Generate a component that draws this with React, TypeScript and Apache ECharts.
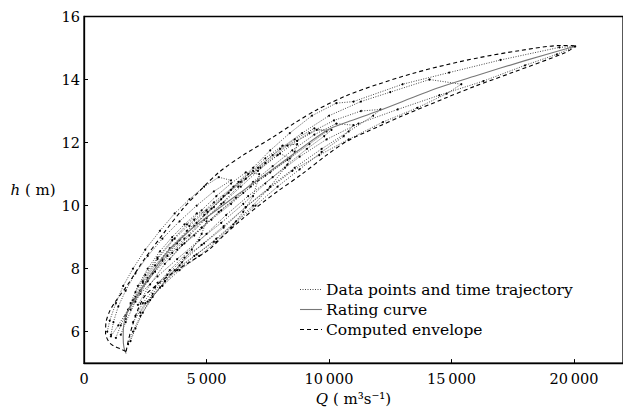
import React, { useEffect, useRef } from 'react';
import * as echarts from 'echarts';

const xTicks = [0, 5000, 10000, 15000, 20000];
const yTicks = [6, 8, 10, 12, 14, 16];

const ratingCurve = [
  [1720, 5.3], [1630, 5.5], [1600, 5.8], [1620, 6.2], [1750, 6.6], [2020, 6.95],
  [2690, 7.77], [3370, 8.5], [4300, 9.2], [5400, 9.85], [6450, 10.45], [8000, 11.32],
  [9935, 12.4], [10750, 12.65], [12000, 13.0], [14400, 13.72], [16000, 14.12],
  [18000, 14.6], [20000, 15.05],
];

const envelopeUpper = [
  [1720, 5.37], [1480, 5.45], [1200, 5.55], [1010, 5.68], [880, 5.95], [900, 6.3],
  [1050, 6.65], [1280, 6.95], [1750, 7.45], [2420, 8.25], [3230, 9.1], [4040, 9.9],
  [4700, 10.45], [5500, 11.05], [6500, 11.6], [7650, 12.14], [8600, 12.62], [9530, 13.05],
  [10750, 13.5], [12000, 13.85], [13450, 14.2], [14800, 14.47], [16100, 14.69],
  [17800, 14.92], [19500, 15.08], [20050, 15.07],
];

const envelopeLower = [
  [1720, 5.37], [1820, 5.75], [1980, 6.2], [2200, 6.7], [2500, 7.15], [3000, 7.5],
  [3600, 7.85], [4300, 8.2], [5100, 8.6], [5700, 9.05], [6500, 9.6], [7300, 10.1],
  [7900, 10.45], [8900, 11.0], [9900, 11.6], [10750, 12.05], [12000, 12.5], [13000, 12.85],
  [14780, 13.42], [16000, 13.8], [17480, 14.22], [19630, 14.85], [20050, 15.05],
];

const trajectoryA = [
  [2100, 6.5], [2400, 6.9], [2900, 7.4], [3500, 7.95], [4200, 8.5], [5000, 9.1], [5800, 9.7],
  [6700, 10.3], [7700, 10.9], [8800, 11.55], [9900, 12.1], [11200, 12.6], [12800, 13.05],
  [14500, 13.5], [16300, 13.95], [18000, 14.45], [19300, 14.8], [20050, 15.05],
  [19400, 15.02], [17000, 14.62], [14900, 14.22], [13000, 13.85], [11000, 13.3], [10300, 13.25],
  [9300, 12.85], [8400, 12.3], [7600, 11.75], [6900, 11.2], [6300, 10.75], [5600, 10.2],
  [4900, 9.7], [4200, 9.2], [3500, 8.65], [2900, 8.1], [2400, 7.55], [2000, 7.0], [1700, 6.5],
];
const trajectoryB = [
  [2300, 6.6], [2800, 7.2], [3400, 7.8], [4100, 8.35], [4900, 8.8], [5700, 9.3], [6600, 9.95],
  [7500, 10.5], [8500, 11.1], [9600, 11.6], [10800, 12.1], [12200, 12.65], [13600, 13.1],
  [14800, 13.55], [15400, 13.85], [14100, 14.0], [12500, 13.6], [11300, 13.3], [10000, 12.85],
  [8900, 12.3], [8000, 11.8], [7100, 11.2], [6300, 10.6], [5600, 10.05], [4900, 9.55],
  [4100, 8.95], [3400, 8.4], [2800, 7.85], [2300, 7.3], [1900, 6.7],
];
const trajectoryC = [
  [1800, 5.6], [2000, 6.0], [2300, 6.5], [2700, 7.0], [3300, 7.6], [4000, 8.2], [4800, 8.75],
  [5700, 9.35], [6600, 9.95], [7600, 10.6], [8600, 11.2], [9700, 11.8], [10800, 12.35],
  [11800, 12.85], [12100, 13.05], [11300, 13.0], [10200, 12.7], [9200, 12.3], [8300, 11.9],
  [7400, 11.35], [6600, 10.85], [5900, 10.4], [5200, 9.9], [4500, 9.35], [3800, 8.8],
  [3200, 8.25], [2600, 7.6], [2100, 6.95], [1700, 6.3], [1500, 5.9],
];
const trajectoryD = [
  [1300, 5.8], [1500, 6.2], [1800, 6.7], [2300, 7.2], [3000, 7.75], [3800, 8.3], [4700, 8.9],
  [5600, 9.45], [6500, 10.05], [7400, 10.7], [8300, 11.3], [9100, 11.8], [9800, 12.2],
  [10100, 12.4], [9500, 12.4], [8700, 12.05], [7900, 11.6], [7100, 11.1], [6400, 10.6],
  [5700, 10.1], [5000, 9.6], [4300, 9.05], [3600, 8.5], [2900, 7.9], [2300, 7.3], [1800, 6.7],
  [1400, 6.2], [1100, 5.85],
];
const trajectoryE = [
  [2000, 6.3], [2500, 6.9], [3100, 7.4], [3800, 7.95], [4600, 8.45], [5400, 8.95], [6200, 9.5],
  [6900, 10.0], [7600, 10.6], [8200, 11.2], [8600, 11.7], [8700, 11.95], [8100, 11.9],
  [7400, 11.5], [6700, 11.0], [6000, 10.5], [5300, 9.95], [4600, 9.45], [3900, 8.9],
  [3200, 8.3], [2600, 7.7], [2100, 7.1], [1700, 6.5],
];
const trajectoryF = [
  [2600, 6.95], [3200, 7.45], [3900, 7.95], [4700, 8.4], [5400, 8.85], [6000, 9.3], [6500, 9.8],
  [6900, 10.3], [7100, 10.8], [7150, 11.0], [6600, 11.05], [6000, 10.7], [5400, 10.3],
  [4800, 9.85], [4200, 9.4], [3600, 8.9], [3000, 8.35], [2500, 7.8], [2100, 7.25],
];
const trajectoryG = [
  [1100, 5.9], [1200, 6.3], [1400, 6.8], [1700, 7.3], [2100, 7.85], [2600, 8.4], [3200, 8.95],
  [3900, 9.5], [4600, 10.0], [5300, 10.45], [6000, 10.8], [5500, 10.9], [4900, 10.6],
  [4300, 10.2], [3700, 9.75], [3100, 9.2], [2500, 8.6], [2000, 8.0], [1600, 7.45],
  [1300, 6.9], [1050, 6.35], [950, 6.0],
];
const trajectoryH = [
  [1900, 5.7], [2100, 6.1], [2400, 6.6], [2800, 7.1], [3300, 7.6], [3900, 8.1], [4400, 8.6],
  [4800, 9.1], [5000, 9.5], [5050, 9.8], [4600, 9.75], [4100, 9.4], [3600, 9.0], [3100, 8.55],
  [2600, 8.0], [2200, 7.45], [1900, 6.9], [1700, 6.4],
];
const trajectoryI = [
  [3000, 7.55], [3700, 7.95], [4500, 8.4], [5300, 8.85], [6100, 9.4], [7000, 10.0], [7900, 10.6],
  [8800, 11.15], [9700, 11.7], [10600, 12.2], [11000, 12.55], [10300, 12.6], [9400, 12.25],
  [8500, 11.75], [7700, 11.25], [6900, 10.75], [6200, 10.25], [5500, 9.8], [4800, 9.3],
  [4100, 8.8], [3500, 8.3],
];
const trajectoryJ = [
  [2200, 6.85], [2700, 7.5], [3300, 8.15], [4000, 8.75], [4800, 9.3], [5600, 9.85], [6500, 10.4],
  [7400, 10.95], [8300, 11.45], [9200, 11.95], [9900, 12.35], [9400, 12.45], [8600, 12.1],
  [7700, 11.6], [6900, 11.1], [6100, 10.6], [5300, 10.1], [4500, 9.55], [3700, 8.95],
  [3000, 8.3], [2400, 7.6],
];
const trajectoryK = [
  [3800, 8.6], [4500, 9.05], [5200, 9.55], [6000, 10.05], [6800, 10.6], [7600, 11.05],
  [8400, 11.5], [8000, 11.65], [7200, 11.2], [6400, 10.75], [5700, 10.3], [5000, 9.85],
  [4300, 9.35],
];

const trajectories = [
  trajectoryA, trajectoryB, trajectoryC, trajectoryD, trajectoryE, trajectoryF,
  trajectoryG, trajectoryH, trajectoryI, trajectoryJ, trajectoryK,
];

const legendLabels = ['Data points and time trajectory', 'Rating curve', 'Computed envelope'];

const FONT = '"DejaVu Serif", "Liberation Serif", serif';

function fmt(v: number): string {
  return String(v).replace(/(\d)(?=(\d{3})+$)/g, '$1\u2009');
}

export default function App() {
  const ref = useRef<HTMLDivElement>(null);
  useEffect(() => {
    if (!ref.current) return;
    const chart = echarts.init(ref.current, null, { renderer: 'svg' });
    const dataSeries = trajectories.map((t) => ({
      name: legendLabels[0],
      type: 'line',
      data: t,
      symbol: 'circle',
      symbolSize: 2,
      showSymbol: true,
      itemStyle: { color: '#000' },
      lineStyle: { color: '#333', width: 0.9, type: [1, 1.5] },
      z: 2,
      silent: true,
    }));
    const legendY = [289.5, 309.5, 329.5];
    chart.setOption({
      animation: false,
      grid: {
        left: 84, top: 16.5, width: 544.7, height: 349.5,
        show: true, borderColor: '#000', borderWidth: 1.3, backgroundColor: 'transparent',
      },
      xAxis: {
        type: 'value', min: 0, max: 22000,
        name: '{i|Q} ( m³s⁻¹)',
        nameLocation: 'middle', nameGap: 25,
        nameTextStyle: {
          fontFamily: FONT, fontSize: 15, color: '#000',
          rich: { i: { fontFamily: FONT, fontSize: 15, fontStyle: 'italic', color: '#000' } },
        },
        axisLine: { show: true, lineStyle: { color: '#000', width: 1.3 } },
        axisTick: { show: true, inside: true, length: 4, lineStyle: { color: '#000', width: 1 }, customValues: xTicks },
        axisLabel: { customValues: xTicks, formatter: (v: number) => fmt(v), fontFamily: FONT, fontSize: 14.5, color: '#000', margin: 8 },
        splitLine: { show: false },
      },
      yAxis: {
        type: 'value', min: 5, max: 16,
        name: '{i|h} ( m)',
        nameLocation: 'middle', nameGap: 27, nameRotate: 0,
        nameTextStyle: {
          fontFamily: FONT, fontSize: 15, color: '#000', align: 'right', verticalAlign: 'middle',
          rich: { i: { fontFamily: FONT, fontSize: 15, fontStyle: 'italic', color: '#000' } },
        },
        axisLine: { show: true, lineStyle: { color: '#000', width: 1.3 } },
        axisTick: { show: true, inside: true, length: 4, lineStyle: { color: '#000', width: 1 }, customValues: yTicks },
        axisLabel: { customValues: yTicks, fontFamily: FONT, fontSize: 14.5, color: '#000', margin: 4 },
        splitLine: { show: false },
      },
      series: [
        ...dataSeries,
        {
          name: legendLabels[1], type: 'line', data: ratingCurve, showSymbol: false, smooth: 0.3,
          lineStyle: { color: '#777', width: 1.1 }, z: 3, silent: true,
        },
        {
          name: legendLabels[2], type: 'line', data: envelopeUpper, showSymbol: false, smooth: 0.3,
          lineStyle: { color: '#000', width: 1.1, type: [4, 3] }, z: 4, silent: true,
        },
        {
          name: legendLabels[2], type: 'line', data: envelopeLower, showSymbol: false, smooth: 0.3,
          lineStyle: { color: '#000', width: 1.1, type: [4, 3] }, z: 4, silent: true,
        },
      ],
      graphic: [
        { type: 'line', shape: { x1: 300, y1: legendY[0], x2: 322, y2: legendY[0] }, style: { stroke: '#333', lineWidth: 0.9, lineDash: [1, 1.5] } },
        { type: 'line', shape: { x1: 300, y1: legendY[1], x2: 322, y2: legendY[1] }, style: { stroke: '#777', lineWidth: 1.1 } },
        { type: 'line', shape: { x1: 300, y1: legendY[2], x2: 322, y2: legendY[2] }, style: { stroke: '#000', lineWidth: 1.1, lineDash: [4, 3] } },
        ...legendLabels.map((t, i) => ({
          type: 'text', x: 326, y: legendY[i],
          style: { text: t, font: `15.5px ${FONT}`, fill: '#000', verticalAlign: 'middle', textVerticalAlign: 'middle' },
        })),
      ],
    });
    return () => chart.dispose();
  }, []);
  return <div ref={ref} style={{ position: 'absolute', left: 0, top: 0, width: 623, height: 411 }} />;
}
